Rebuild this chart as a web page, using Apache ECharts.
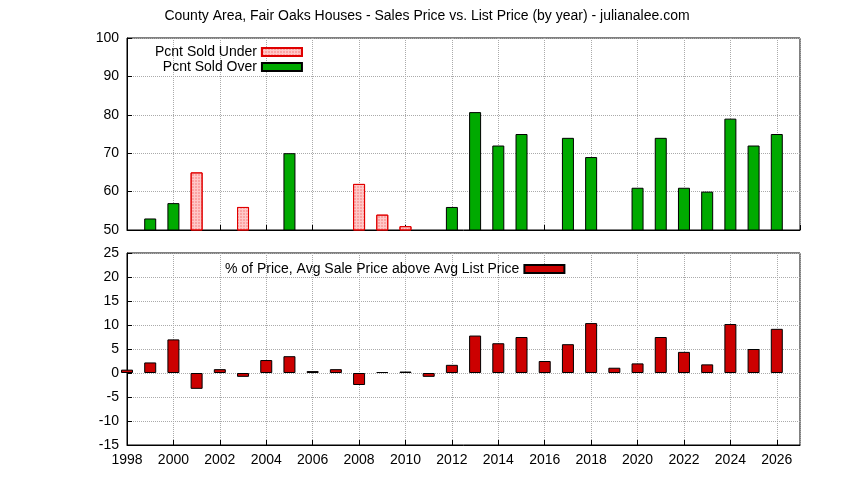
<!DOCTYPE html><html><head><meta charset="utf-8"><script src="https://cdn.jsdelivr.net/npm/echarts@6/dist/echarts.min.js"></script></head><body style="margin:0"><div id="c" style="width:844px;height:480px"></div><script>
const underYears=[2001,2003,2008,2009,2010];
const underVals=[65,56,62,54,51];
const overYears=[1999,2000,2005,2012,2013,2014,2015,2017,2018,2020,2021,2022,2023,2024,2025,2026];
const overVals=[53,57,70,56,80.7,72,75,74,69,61,74,61,60,79,72,75];
const pctYears=[1998,1999,2000,2001,2002,2003,2004,2005,2006,2007,2008,2009,2010,2011,2012,2013,2014,2015,2016,2017,2018,2019,2020,2021,2022,2023,2024,2025,2026];
const pctVals=[0.7,2.2,7,-3.3,0.8,-0.8,2.7,3.5,0.4,0.8,-2.5,0.2,0.3,-0.8,1.7,7.8,6.2,7.5,2.5,6,10.4,1.1,2,7.5,4.4,1.8,10.2,5,9.2];
const zip=(a,b)=>a.map((x,i)=>[x,b[i]]);
const ff='Liberation Sans, Arial, sans-serif';
const grid=(show)=>({type:'value',min:1998,max:2027,interval:2,axisLine:{onZero:false,lineStyle:{color:'#000'}},axisTick:{inside:true,length:5,lineStyle:{color:'#000'}},
 splitLine:{show:true,lineStyle:{type:'dotted',color:'#aaa'}},axisLabel:{show:show,color:'#000',fontSize:14,fontFamily:ff,showMaxLabel:false,formatter:v=>String(v)}});
const yax=(min,max,iv)=>({type:'value',min,max,interval:iv,axisLine:{show:true,lineStyle:{color:'#000'}},axisTick:{inside:true,length:5,lineStyle:{color:'#000'}},
 splitLine:{lineStyle:{type:'dotted',color:'#aaa'}},axisLabel:{color:'#000',fontSize:14,fontFamily:ff}});
const ch=echarts.init(document.getElementById('c'));
ch.setOption({animation:false,backgroundColor:'#fff',
title:{text:'County Area, Fair Oaks Houses - Sales Price vs. List Price (by year) - julianalee.com',left:422,textAlign:'center',top:4,textStyle:{fontSize:14,fontWeight:'normal',fontFamily:ff,color:'#000'}},
legend:[{data:['Pcnt Sold Under','Pcnt Sold Over'],orient:'vertical',left:150,top:40,align:'right',itemGap:1,itemWidth:40,itemHeight:8,icon:'rect',textStyle:{fontSize:14,fontFamily:ff,color:'#000'}},
 {data:['% of Price, Avg Sale Price above Avg List Price'],left:220,top:257,align:'right',itemWidth:40,itemHeight:8,icon:'rect',textStyle:{fontSize:14,fontFamily:ff,color:'#000'}}],
grid:[{left:127,right:44,top:38,height:192,show:true,borderColor:'#000',borderWidth:1},{left:127,right:44,top:253,bottom:35,show:true,borderColor:'#000',borderWidth:1}],
xAxis:[Object.assign(grid(false),{gridIndex:0}),Object.assign(grid(true),{gridIndex:1})],
yAxis:[Object.assign(yax(50,100,10),{gridIndex:0}),Object.assign(yax(-15,25,5),{gridIndex:1})],
series:[
{name:'Pcnt Sold Under',type:'bar',xAxisIndex:0,yAxisIndex:0,barWidth:12,data:zip(underYears,underVals),itemStyle:{color:'#ffc8c8',borderColor:'#e00000',borderWidth:1,decal:{symbol:'rect',symbolSize:0.6,dashArrayX:[2,1],dashArrayY:[2,1],color:'rgba(230,0,0,0.6)'}}},
{name:'Pcnt Sold Over',type:'bar',xAxisIndex:0,yAxisIndex:0,barWidth:12,barGap:'-100%',data:zip(overYears,overVals),itemStyle:{color:'#00aa00',borderColor:'#000',borderWidth:1}},
{name:'% of Price, Avg Sale Price above Avg List Price',type:'bar',xAxisIndex:1,yAxisIndex:1,barWidth:12,data:zip(pctYears,pctVals),itemStyle:{color:'#cc0000',borderColor:'#000',borderWidth:1}}
]});
</script></body></html>
